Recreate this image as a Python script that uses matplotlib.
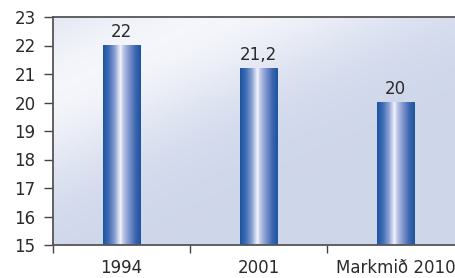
import numpy as np
import matplotlib
matplotlib.use("Agg")
import matplotlib.pyplot as plt
from matplotlib.colors import LinearSegmentedColormap

categories = ["1994", "2001", "Markmið 2010"]
values = [22.0, 21.2, 20.0]
value_labels = ["22", "21,2", "20"]
yticks = [15, 16, 17, 18, 19, 20, 21, 22, 23]

plt.rcParams['font.family'] = ['DejaVu Sans']

fig = plt.figure(figsize=(4.56, 2.78), dpi=100)
ax = fig.add_axes([53/456, 33/278, 411/456, 228/278])

ax.set_xlim(-0.5, 2.5)
ax.set_ylim(15, 23)

# background gradient
ny, nx = 200, 400
yy, xx = np.mgrid[0:1:ny*1j, 0:1:nx*1j]  # yy: 0 top -> 1 bottom
d = xx * 0.9 + yy * 1.1
light = np.exp(-((d - 0.35) / 0.45) ** 2)
base = np.array([0.81, 0.84, 0.92])
hi = np.array([0.96, 0.965, 0.985])
img = base[None, None, :] + (hi - base)[None, None, :] * light[..., None]
ax.imshow(img, extent=[-0.5, 2.5, 15, 23], aspect='auto', zorder=0, interpolation='bilinear')

bar_cmap = LinearSegmentedColormap.from_list("bar", [
    (0.0, "#1a54a0"), (0.15, "#3f6cb5"), (0.32, "#8ea3d4"), (0.42, "#d8def0"),
    (0.47, "#f4f6fc"), (0.52, "#c4cce8"), (0.68, "#8196cf"), (0.85, "#3f67b0"),
    (1.0, "#1a54a0")])
grad = np.linspace(0, 1, 256)[None, :]
width = 0.277
bars = ax.bar(range(len(categories)), values, width=width, bottom=0, color='none', zorder=2)
for b, v, lab in zip(bars, values, value_labels):
    x0 = b.get_x()
    ax.imshow(grad, cmap=bar_cmap, extent=[x0, x0 + width, 15, v], aspect='auto', zorder=2,
              interpolation='bilinear')
    ax.annotate(lab, (x0 + width / 2, v), xytext=(0, 3), textcoords='offset points',
                ha='center', va='bottom', fontsize=12, color='#2a2a2a')

ax.set_xlim(-0.5, 2.5)
ax.set_ylim(15, 23)

ax.set_yticks(yticks)
ax.set_yticklabels([str(t) for t in yticks])
ax.set_xticks(range(len(categories)))
ax.set_xticklabels(categories)
ax.set_xticks([-0.5, 0.5, 1.5], minor=True)
ax.tick_params(axis='x', which='major', length=0, pad=10, labelsize=12, labelcolor='#2a2a2a')
ax.tick_params(axis='x', which='minor', length=5.5, width=1, color='#444444', direction='out')
ax.tick_params(axis='y', length=6.5, width=1, color='#444444', direction='out', labelsize=12,
               labelcolor='#2a2a2a', pad=6)

for s in ['left', 'bottom', 'top']:
    ax.spines[s].set_color('#555555')
    ax.spines[s].set_linewidth(1.3)
ax.spines['right'].set_visible(False)

fig.savefig("out.png", dpi=100)
